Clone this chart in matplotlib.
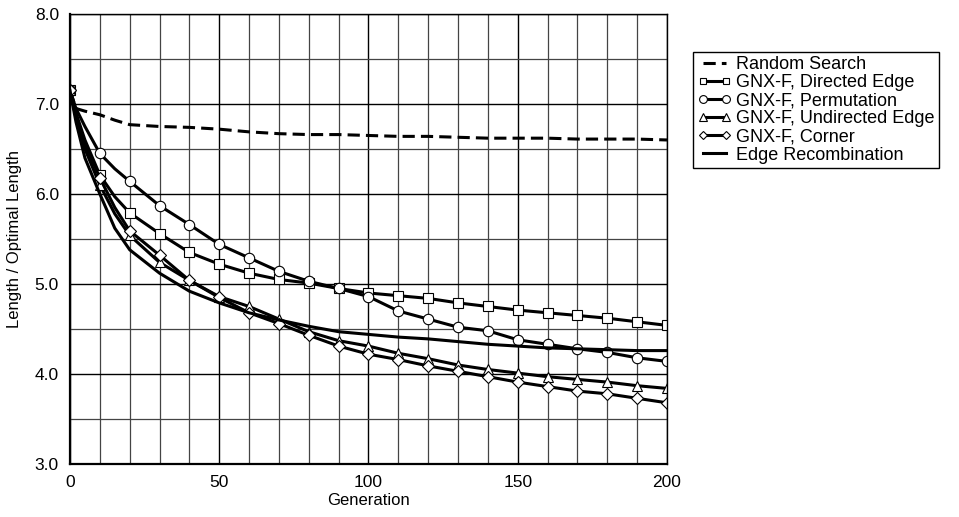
import matplotlib
matplotlib.use("Agg")
import matplotlib.pyplot as plt
from matplotlib.ticker import MultipleLocator

plt.rcParams["font.family"] = ["Liberation Sans", "DejaVu Sans"]

# generations sampled (markers every 10)
gens = [0, 2, 5, 10, 15, 20, 30, 40, 50, 60, 70, 80, 90, 100,
        110, 120, 130, 140, 150, 160, 170, 180, 190, 200]

random_search = [7.15, 6.95, 6.92, 6.88, 6.82, 6.77, 6.75, 6.74, 6.72, 6.69, 6.67, 6.66,
                 6.66, 6.65, 6.64, 6.64, 6.63, 6.62, 6.62, 6.62, 6.61, 6.61, 6.61, 6.60]
directed = [7.15, 6.90, 6.60, 6.21, 5.97, 5.79, 5.56, 5.35, 5.22, 5.12, 5.05, 5.01,
            4.95, 4.90, 4.87, 4.84, 4.79, 4.75, 4.71, 4.68, 4.65, 4.62, 4.58, 4.54]
permutation = [7.15, 6.95, 6.75, 6.45, 6.28, 6.14, 5.87, 5.66, 5.44, 5.29, 5.14, 5.03,
               4.95, 4.86, 4.70, 4.61, 4.52, 4.48, 4.38, 4.33, 4.28, 4.24, 4.18, 4.14]
undirected = [7.15, 6.85, 6.50, 6.10, 5.78, 5.54, 5.24, 5.04, 4.86, 4.75, 4.61, 4.47,
              4.37, 4.31, 4.23, 4.17, 4.10, 4.05, 4.01, 3.97, 3.94, 3.91, 3.87, 3.84]
corner = [7.15, 6.88, 6.55, 6.18, 5.85, 5.59, 5.32, 5.04, 4.85, 4.68, 4.56, 4.43,
          4.31, 4.22, 4.16, 4.09, 4.03, 3.97, 3.91, 3.86, 3.81, 3.78, 3.73, 3.68]
edge_recomb = [7.15, 6.80, 6.40, 6.00, 5.62, 5.38, 5.12, 4.92, 4.79, 4.68, 4.60, 4.53,
               4.47, 4.44, 4.41, 4.39, 4.36, 4.33, 4.31, 4.29, 4.28, 4.27, 4.26, 4.26]

marks = [i for i, g in enumerate(gens) if g % 10 == 0]

fig = plt.figure(figsize=(9.59, 5.17), dpi=100)
ax = fig.add_axes([0.073, 0.1025, 0.6225, 0.8705])

ax.plot(gens, random_search, color="black", lw=2.2, ls=(0, (4, 2)),
        label="Random Search")
series = [
    (directed, "s", 6.5, "GNX-F, Directed Edge"),
    (permutation, "o", 7.5, "GNX-F, Permutation"),
    (undirected, "^", 7.5, "GNX-F, Undirected Edge"),
    (corner, "D", 6, "GNX-F, Corner"),
]
for vals, mk, ms, lab in series:
    ax.plot(gens, vals, color="black", lw=2.2, marker=mk, ms=ms,
            mfc="white", mec="black", mew=0.8, markevery=marks, label=lab)
ax.plot(gens, edge_recomb, color="black", lw=2.2, label="Edge Recombination")

ax.set_xlim(0, 200)
ax.set_ylim(3.0, 8.0)
ax.xaxis.set_major_locator(MultipleLocator(50))
ax.xaxis.set_minor_locator(MultipleLocator(10))
ax.yaxis.set_major_locator(MultipleLocator(1.0))
ax.yaxis.set_minor_locator(MultipleLocator(0.5))
ax.yaxis.set_major_formatter(plt.FormatStrFormatter("%.1f"))
ax.grid(which="major", color="black", lw=1.0)
ax.grid(which="minor", color="#444444", lw=0.9)
ax.set_axisbelow(True)
ax.tick_params(which="both", length=0, labelsize=12.5, pad=8)
for s in ax.spines.values():
    s.set_linewidth(1.0)
ax.spines["left"].set_linewidth(1.6)
ax.spines["bottom"].set_linewidth(1.6)

ax.set_xlabel("Generation", fontsize=12, labelpad=2)
ax.set_ylabel("Length / Optimal Length", fontsize=12, labelpad=9)

leg = fig.legend(loc="upper left", bbox_to_anchor=(0.7225, 0.9), fontsize=13,
                 frameon=True, fancybox=False, edgecolor="black", framealpha=1,
                 handlelength=1.9, handletextpad=0.25, labelspacing=0.06,
                 borderpad=0.25, borderaxespad=0, numpoints=2, markerscale=0.75)
leg.get_frame().set_linewidth(1.0)

fig.savefig("out.png", dpi=100)
